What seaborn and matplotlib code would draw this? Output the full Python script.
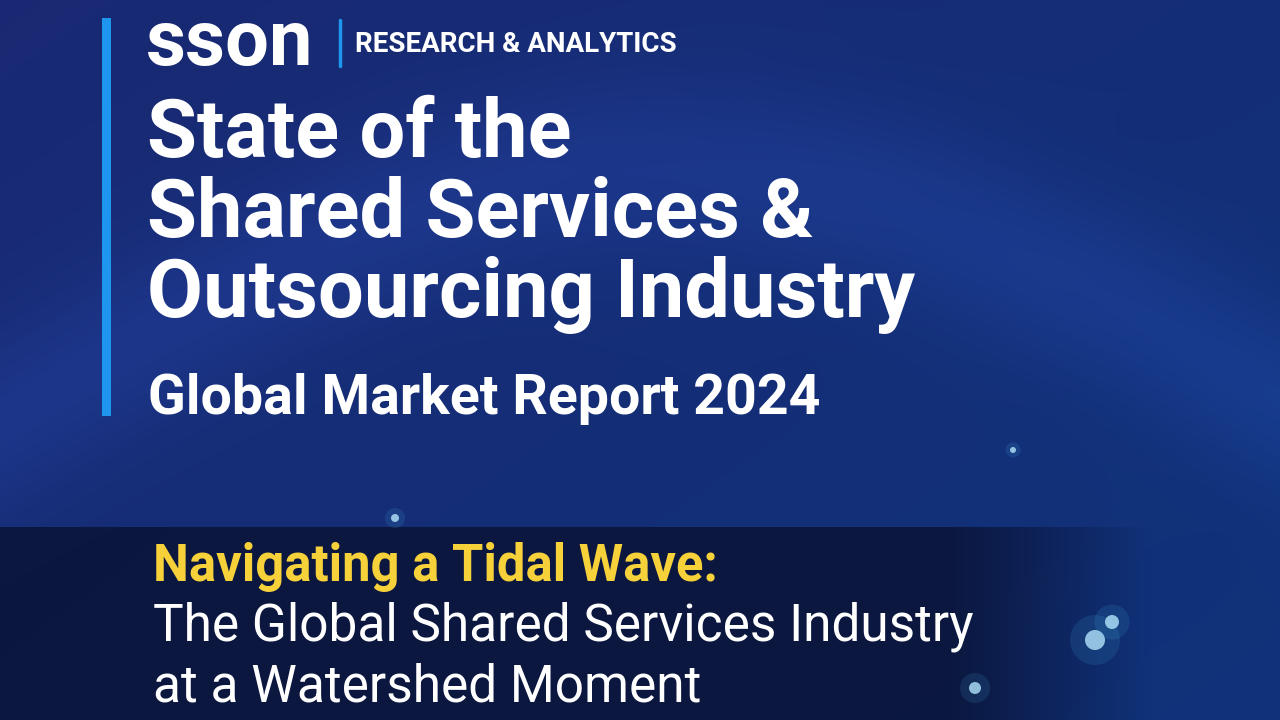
import numpy as np
import matplotlib
matplotlib.use("Agg")
import matplotlib.pyplot as plt
import seaborn as sns
from matplotlib.patches import Rectangle, Circle

sns.set_theme(style="white")
plt.rcParams['font.family'] = ['Roboto', 'DejaVu Sans']

brand = "sson"
tagline = "RESEARCH & ANALYTICS"
title_lines = ["State of the", "Shared Services &", "Outsourcing Industry"]
subtitle = "Global Market Report 2024"
headline = "Navigating a Tidal Wave:"
body_lines = ["The Global Shared Services Industry", "at a Watershed Moment"]

fig = plt.figure(figsize=(12.8, 7.2), dpi=100)
ax = fig.add_axes([0, 0, 1, 1])
ax.set_xlim(0, 1280); ax.set_ylim(720, 0); ax.axis("off")

# background gradient
yy, xx = np.mgrid[0:720, 0:1280]
t = np.clip(0.55 * xx / 1280 + 0.45 * yy / 720, 0, 1)
c0 = np.array([0.10, 0.16, 0.45]); c1 = np.array([0.06, 0.20, 0.48])
img = (c0 * (1 - t)[..., None] + c1 * t[..., None])
wave = np.exp(-((yy - (420 - 250 * np.sin(xx / 420)))**2) / 9000.0) * 0.08
img = img + wave[..., None] * np.array([0.3, 0.5, 1.0])
ax.imshow(np.clip(img, 0, 1), extent=[0, 1280, 720, 0], aspect="auto", zorder=0)

# dark bottom band with fade on the right
band = np.zeros((10, 1280, 4))
band[..., :3] = np.array([0.043, 0.078, 0.21])
fade = np.clip((1150 - np.arange(1280)) / 200.0, 0, 1) * 0.85
band[..., 3] = fade[None, :]
ax.imshow(band, extent=[0, 1280, 720, 527], aspect="auto", zorder=1)

for cx, cy, r in [(1095, 640, 10), (1112, 622, 7), (975, 688, 6), (395, 518, 4), (1013, 450, 3)]:
    ax.add_patch(Circle((cx, cy), r * 2.5, color="#4fc3f7", alpha=0.12, lw=0, zorder=2))
    ax.add_patch(Circle((cx, cy), r, color="#b3e5fc", alpha=0.8, lw=0, zorder=2))

# left bar
ax.add_patch(Rectangle((102, 18), 9, 398, color="#1e96f0", lw=0, zorder=3))
# logo
ax.text(146, 44, brand, color="white", fontsize=56, fontweight="bold", va="center", ha="left", zorder=4)
ax.plot([340, 340], [20, 66], color="#1e96f0", lw=2.5, zorder=4)
ax.text(355, 45, tagline, color="white", fontsize=20, fontweight="bold", va="center", ha="left", zorder=4)

for i, line in enumerate(title_lines):
    ax.text(147, 135 + 80 * i, line, color="white", fontsize=58.5, fontweight="bold", va="center", ha="left", zorder=4)
ax.text(148, 399, subtitle, color="white", fontsize=40, fontweight="bold", va="center", ha="left", zorder=4)

ax.text(153, 567, headline, color="#f7d13a", fontsize=36.5, fontweight="bold", va="center", ha="left", zorder=4)
for i, line in enumerate(body_lines):
    ax.text(153, 627 + 60 * i, line, color="white", fontsize=37, va="center", ha="left", zorder=4)

fig.savefig("out.png", dpi=100)
